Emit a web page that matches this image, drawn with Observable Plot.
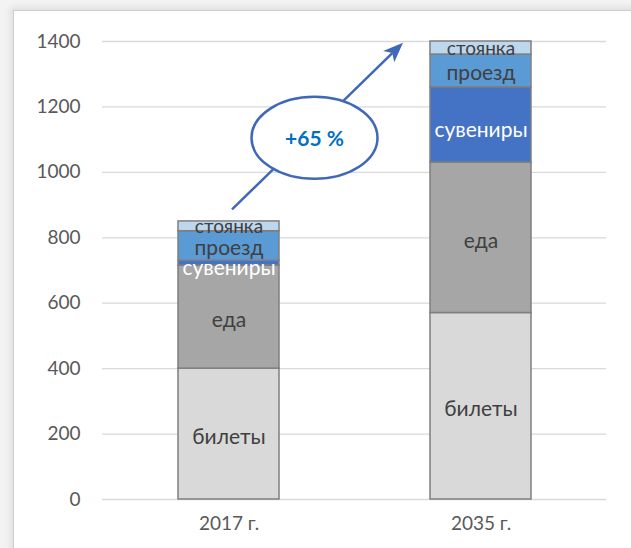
<!DOCTYPE html>
<html>
<head>
<meta charset="utf-8">
<script src="https://cdn.jsdelivr.net/npm/d3@7"></script>
<script src="https://cdn.jsdelivr.net/npm/@observablehq/plot@0.6"></script>
<style>
  html, body { margin: 0; padding: 0; background: #f3f3f3; width: 631px; height: 548px; overflow: hidden; }
  #frame { position: absolute; left: 13px; top: 10px; width: 640px; height: 560px; background: #fff;
           border: 1px solid #cfcfcf; box-shadow: -3px -3px 6px rgba(0,0,0,0.08); }
  #chart { position: absolute; left: 0; top: 0; }
  svg { font-family: Lato, "Open Sans", sans-serif; }
</style>
</head>
<body>
<div id="frame"></div>
<div id="chart"></div>
<script>
const years = ["2017 г.", "2035 г."];
const categories = ["билеты", "еда", "сувениры", "проезд", "стоянка"];
const values2017 = [400, 315, 15, 90, 30];
const values2035 = [570, 460, 230, 100, 40];
const colors = ["#d9d9d9", "#a6a6a6", "#4472c4", "#5b9bd5", "#bdd7ee"];
const labelColors = ["#404040", "#404040", "#ffffff", "#404040", "#404040"];
const labelSizes = [21, 21, 21, 21, 19];
const labelShift = [3, 3, 5, 2, 1];
const yTicks = [0, 200, 400, 600, 800, 1000, 1200, 1400];
const growthLabel = "+65 %";
const arrowFromValue = 885;
const arrowToValue = 1395;
const ellipseValue = 1104;

const data = [];
categories.forEach((c, i) => {
  data.push({year: years[0], cat: c, value: values2017[i], idx: i});
  data.push({year: years[1], cat: c, value: values2035[i], idx: i});
});

const plot = Plot.plot({
  width: 631,
  height: 548,
  marginLeft: 102,
  marginRight: 25,
  marginTop: 41,
  marginBottom: 49,
  style: {background: "transparent", fontFamily: "Lato, 'Open Sans', sans-serif", fontSize: "19px", color: "#595959"},
  x: {domain: years, paddingInner: 0.6, paddingOuter: 0.3, label: null, tickSize: 0, tickPadding: 17},
  y: {domain: [0, 1400], ticks: yTicks, tickFormat: d => String(d), label: null, tickSize: 0, tickPadding: 22},
  color: {domain: categories, range: colors},
  marks: [
    Plot.ruleY(yTicks, {stroke: "#d9d9d9", strokeWidth: 1.3}),
    Plot.barY(data, {x: "year", y: "value", fill: "cat", z: "cat", order: categories, stroke: "#7f7f7f", strokeWidth: 1.5}),
    ...categories.map((c, i) => Plot.text(data, Plot.stackY({
      x: "year", y: "value", z: "cat", order: categories, text: d => d.cat === c ? d.cat : "",
      fill: labelColors[i], fontSize: labelSizes[i], dy: labelShift[i]
    })))
  ]
});
document.getElementById("chart").appendChild(plot);

const svg = d3.select(plot);
const xs = plot.scale("x");
const ys = plot.scale("y");
const bw = xs.bandwidth;
const x0 = xs.apply(years[0]);
const x1 = xs.apply(years[1]);
const ax1 = x0 + bw - 47, ay1 = ys.apply(arrowFromValue);
const ax2 = x1 - 27, ay2 = ys.apply(arrowToValue);
const blue = "#3f69b8";
const g = svg.append("g");
const ang = Math.atan2(ay2 - ay1, ax2 - ax1);
const hl = 20, hw = 8;
const bx = ax2 - hl * Math.cos(ang), by = ay2 - hl * Math.sin(ang);
const nx = -Math.sin(ang), ny = Math.cos(ang);
const notch = 5;
g.append("line").attr("x1", ax1).attr("y1", ay1)
  .attr("x2", bx + notch * Math.cos(ang)).attr("y2", by + notch * Math.sin(ang))
  .attr("stroke", blue).attr("stroke-width", 2.5);
g.append("path").attr("d",
  `M${ax2},${ay2} L${bx + hw*nx},${by + hw*ny} L${bx + notch*Math.cos(ang)},${by + notch*Math.sin(ang)} L${bx - hw*nx},${by - hw*ny} Z`)
  .attr("fill", blue);
const ex = x0 + bw / 2 + 86, ey = ys.apply(ellipseValue);
g.append("ellipse").attr("cx", ex).attr("cy", ey).attr("rx", 63).attr("ry", 41)
  .attr("fill", "#fff").attr("stroke", blue).attr("stroke-width", 2.5);
g.append("text").attr("x", ex).attr("y", ey).attr("dy", "0.4em").attr("text-anchor", "middle")
  .attr("fill", "#0070c0").attr("font-weight", "bold").attr("font-size", 21)
  .text(growthLabel);
</script>
</body>
</html>
